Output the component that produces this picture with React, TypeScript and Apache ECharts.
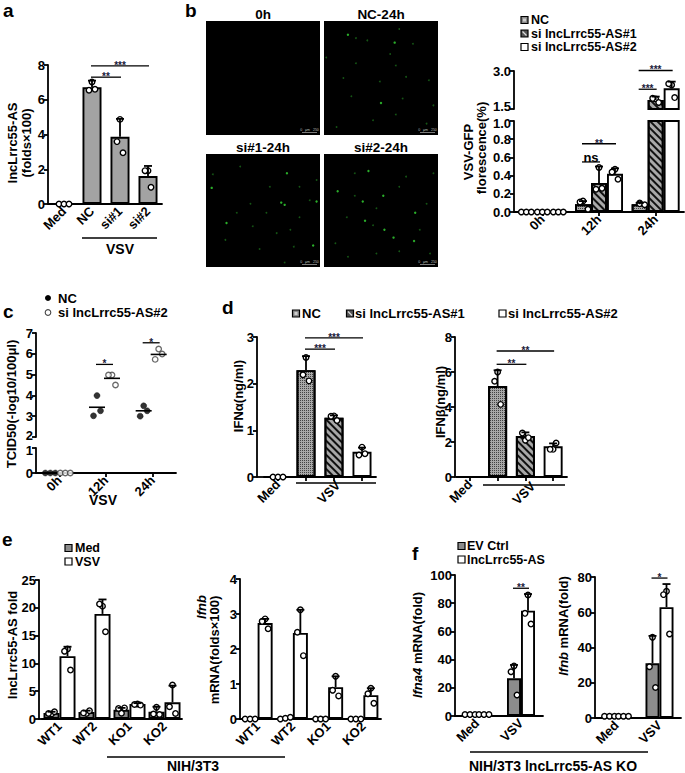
import React, { useEffect, useRef } from 'react';
import * as echarts from 'echarts';

const FONT = '"Liberation Sans", Arial, Helvetica, sans-serif';

// ---------------- panel a ----------------
const A_CATS = ['Med', 'NC', 'si#1', 'si#2'];
const A_MEAN = [0, 6.72, 3.87, 1.61];
const A_ERR = [0, 7.1, 4.9, 2.19];
const A_PTS = [[0, 0, 0], [7.02, 6.55, 6.6], [4.87, 3.59, 2.95], [1.92, 1.92, 0.96]];
const A_SIG = [
  { c1: 1, s1: 0, c2: 2, s2: 0, y: 7.3, label: '**' },
  { c1: 1, s1: 0, c2: 3, s2: 0, y: 7.95, label: '***' },
];

// ---------------- panel b (images) ----------------
const B_IMG_TITLES = ['0h', 'NC-24h', 'si#1-24h', 'si#2-24h'];
const B_DOTS_0H: number[][] = [];
const B_DOTS_NC24 = [[21, 12, 1], [62, 19, 1], [66, 7, 0], [28, 15, 0], [38, 17, 0], [2, 32, 0], [58, 29, 0], [63, 39, 0], [28, 37, 0], [49, 53, 0], [72, 49, 0], [92, 52, 0], [17, 50, 0], [50, 72, 1], [69, 68, 0], [63, 82, 0], [24, 66, 0], [96, 74, 0], [78, 20, 0], [90, 90, 0], [11, 93, 0], [43, 87, 0]];
const B_DOTS_SI1 = [[5, 30, 1], [18, 61, 1], [66, 43, 1], [69, 45, 1], [71, 17, 1], [97, 23, 0], [82, 56, 0], [74, 67, 0], [94, 81, 1], [77, 82, 0], [47, 84, 0], [17, 76, 0], [39, 44, 0], [56, 29, 0], [30, 11, 0], [91, 41, 0], [97, 42, 1], [41, 64, 0], [62, 70, 0], [69, 96, 0], [6, 18, 0], [27, 52, 0], [82, 29, 0], [53, 52, 0]];
const B_DOTS_SI2 = [[39, 15, 1], [12, 33, 1], [52, 37, 1], [36, 59, 1], [80, 52, 1], [61, 74, 1], [79, 77, 1], [10, 79, 0], [43, 63, 0], [27, 37, 0], [34, 42, 1], [46, 48, 0], [66, 29, 0], [90, 44, 0], [27, 17, 0], [66, 86, 0], [93, 88, 0], [53, 67, 1], [72, 20, 0], [20, 56, 0], [84, 67, 0], [46, 88, 0], [96, 17, 0], [21, 91, 0]];

// ---------------- panel b (chart) ----------------
const B_CATS = ['0h', '12h', '24h'];
const B_NAMES = ['NC', 'si lncLrrc55-AS#1', 'si lncLrrc55-AS#2'];
const B_BREAK_LABELS = ['1.5', '1.0'];
const B_NC_MEAN = [0, 0.085, 0.085];
const B_NC_ERR = [0, 0.12, 0.1];
const B_NC_PTS = [[0, 0, 0], [0.12, 0.11, 0.03], [0.1, 0.09, 0.08]];
const B_SI1_MEAN = [0, 0.32, 1.86];
const B_SI1_ERR = [0, 0.5, 1.99];
const B_SI1_PTS = [[0, 0, 0], [0.49, 0.25, 0.26], [1.9, 1.92, 1.76]];
const B_SI2_MEAN = [0, 0.42, 2.32];
const B_SI2_ERR = [0, 0.48, 2.58];
const B_SI2_PTS = [[0, 0, 0], [0.47, 0.44, 0.36], [2.45, 2.5, 1.95]];
const B_SIG = [
  { c1: 1, s1: 0, c2: 1, s2: 1, y: 0.55, label: 'ns' },
  { c1: 1, s1: 0, c2: 1, s2: 2, y: 0.75, label: '**' },
  { c1: 2, s1: 0, c2: 2, s2: 1, y: 2.28, label: '***' },
  { c1: 2, s1: 0, c2: 2, s2: 2, y: 3.02, label: '***' },
];

// ---------------- panel c ----------------
const C_CATS = ['0h', '12h', '24h'];
const C_NAMES = ['NC', 'si lncLrrc55-AS#2'];
const C_BREAK_LABELS = ['2', '1'];
const C_NC_PTS = [[0, 0, 0], [3.99, 3.02, 3.26], [3.5, 3.0, 3.26]];
const C_SI_PTS = [[0, 0, 0], [4.98, 4.98, 4.5], [6.23, 5.73, 5.99]];
const C_NC_MEAN = [0, 3.43, 3.26];
const C_SI_MEAN = [0, 4.82, 5.97];
const C_SIG = [
  { c1: 1, s1: 0, c2: 1, s2: 1, y: 5.49, label: '*' },
  { c1: 2, s1: 0, c2: 2, s2: 1, y: 6.53, label: '*' },
];

// ---------------- panel d ----------------
const D_NAMES = ['NC', 'si lncLrrc55-AS#1', 'si lncLrrc55-AS#2'];
const D_CATS = ['Med', '', '', ''];
const D1_MEAN = [0, 2.29, 1.27, 0.54];
const D1_ERR = [0, 2.59, 1.32, 0.63];
const D1_PTS = [[0, 0, 0], [2.56, 2.19, 2.06], [1.31, 1.3, 1.21], [0.64, 0.47, 0.5]];
const D1_SIG = [
  { c1: 1, s1: 0, c2: 2, s2: 0, y: 2.74, label: '***' },
  { c1: 1, s1: 0, c2: 3, s2: 0, y: 2.98, label: '***' },
];
const D2_MEAN = [0, 5.2, 2.34, 1.75];
const D2_ERR = [0, 6.1, 2.55, 1.92];
const D2_PTS = [[], [6.0, 5.47, 4.15], [2.1, 2.51, 2.25], [1.58, 1.58, 1.94]];
const D2_SIG = [
  { c1: 1, s1: 0, c2: 2, s2: 0, y: 6.44, label: '**' },
  { c1: 1, s1: 0, c2: 3, s2: 0, y: 7.2, label: '**' },
];

// ---------------- panel e ----------------
const E_CATS = ['WT1', 'WT2', 'KO1', 'KO2'];
const E_NAMES = ['Med', 'VSV'];
const E1_MED_MEAN = [1.1, 1.25, 1.65, 1.3];
const E1_MED_ERR = [1.3, 1.5, 2.0, 2.2];
const E1_MED_PTS = [[0.9, 1.0, 1.3], [1.0, 1.1, 1.5], [1.05, 1.9, 2.0], [2.1, 0.9, 0.8]];
const E1_VSV_MEAN = [11.3, 18.9, 2.7, 3.0];
const E1_VSV_ERR = [13.0, 21.5, 2.85, 6.0];
const E1_VSV_PTS = [[12.6, 12.2, 8.8], [20.3, 20.7, 15.7], [2.7, 2.6, 2.5], [6.1, 2.2, 1.0]];
const E2_MED_MEAN = [0.01, 0.02, 0.01, 0.01];
const E2_MED_ERR = [0.01, 0.02, 0.01, 0.01];
const E2_MED_PTS = [[0, 0, 0], [0, 0.02, 0.05], [0, 0, 0], [0, 0, 0]];
const E2_VSV_MEAN = [2.74, 2.46, 0.91, 0.68];
const E2_VSV_ERR = [2.86, 3.12, 1.22, 0.88];
const E2_VSV_PTS = [[2.86, 2.79, 2.58], [3.12, 2.48, 1.81], [1.22, 0.82, 0.66], [0.88, 0.72, 0.45]];

// ---------------- panel f ----------------
const F_CATS = ['Med', 'VSV'];
const F_NAMES = ['EV Ctrl', 'lncLrrc55-AS'];
const F1_EV_MEAN = [1, 26.7];
const F1_EV_ERR = [1, 36.2];
const F1_EV_PTS = [[1, 1, 1], [35.5, 31.4, 14.9]];
const F1_LNC_MEAN = [1, 74.7];
const F1_LNC_ERR = [1, 86.5];
const F1_LNC_PTS = [[1, 1, 1], [85.8, 72.8, 65.2]];
const F1_SIG = [{ c1: 1, s1: 0, c2: 1, s2: 1, y: 90.6, label: '**' }];
const F2_EV_MEAN = [1, 31];
const F2_EV_ERR = [1, 46.6];
const F2_EV_PTS = [[1, 1, 1], [45.8, 29.1, 17.3]];
const F2_LNC_MEAN = [1, 62.9];
const F2_LNC_ERR = [1, 76];
const F2_LNC_PTS = [[1, 1, 1], [71.9, 70, 47.7]];
const F2_SIG = [{ c1: 1, s1: 0, c2: 1, s2: 1, y: 79.4, label: '*' }];

// ---------------- styles ----------------
const STIPPLE = { symbol: 'rect', symbolSize: 1, color: 'rgba(0,0,0,0.6)', dashArrayX: [1, 1], dashArrayY: [1, 1], rotation: 0 };
const HATCH = { symbol: 'rect', symbolSize: 1, color: '#111', dashArrayX: [1, 0], dashArrayY: [1.6, 3], rotation: Math.PI / 4 };
const GREY = '#a3a3a3';
const DARK_GREY = '#8c8c8c';
const TICK_FS = 13;

function buildOption() {
  const grid: any[] = [];
  const xAxis: any[] = [];
  const yAxis: any[] = [];
  const series: any[] = [];
  const graphic: any[] = [];

  const axLine = { show: true, onZero: false, lineStyle: { color: '#000', width: 1.8 } };
  const tick = { show: true, length: 4, lineStyle: { color: '#000', width: 1.8 } };
  const lbl = { color: '#000', fontSize: TICK_FS, fontWeight: 'bold', fontFamily: FONT };

  const addGrid = (left: number, top: number, width: number, height: number, extra: any = {}) => {
    grid.push({ left, top, width, height, containLabel: false, outerBoundsMode: 'none', ...extra });
    return grid.length - 1;
  };

  const txt = (x: number, y: number, text: string, o: any = {}) => {
    const align = o.align || 'center';
    const va = o.va || 'middle';
    graphic.push({
      type: 'text', x, y, rotation: o.rot || 0, z: 20, silent: true,
      style: {
        text, fill: o.fill || '#000', fontSize: o.fs || 12, fontWeight: o.fw || 'bold',
        fontStyle: o.fst || 'normal', fontFamily: FONT,
        align, verticalAlign: va, textAlign: align, textVerticalAlign: va,
        rich: o.rich,
      },
    });
  };
  const line = (x1: number, y1: number, x2: number, y2: number, w = 1.8, c = '#000') => {
    graphic.push({ type: 'line', shape: { x1, y1, x2, y2 }, style: { stroke: c, lineWidth: w }, silent: true, z: 20 });
  };
  const box = (x: number, y: number, w: number, h: number, fill: string) => {
    graphic.push({ type: 'rect', shape: { x, y, width: w, height: h }, style: { fill, stroke: '#000', lineWidth: 1.2 }, silent: true, z: 20 });
  };
  const icon = (x: number, y: number, kind: string) => {
    if (kind === 'stipple') {
      box(x, y, 7, 7, '#8a8a8a');
      graphic.push({ type: 'rect', shape: { x: x + 2, y: y + 2, width: 3, height: 3 }, style: { fill: '#cfcfcf' }, silent: true, z: 21 });
    } else if (kind === 'hatch') {
      box(x, y, 7, 7, '#555');
      line(x + 1.5, y + 1.5, x + 5.5, y + 5.5, 1.3, '#ddd');
    } else if (kind === 'grey') {
      box(x, y, 7, 7, DARK_GREY);
    } else {
      box(x, y, 7, 7, '#fff');
    }
  };

  const errSeries = (xi: number, yi: number, data: number[][], off: number, cap: number) => ({
    type: 'custom', xAxisIndex: xi, yAxisIndex: yi, silent: true, z: 4, data,
    encode: { x: 0, y: [1, 2] },
    renderItem: (_p: any, api: any) => {
      const c = api.value(0), m = api.value(1), e = api.value(2);
      const a = api.coord([c, m]);
      const b = api.coord([c, e]);
      const x = a[0] + off;
      return {
        type: 'group', children: [
          { type: 'line', shape: { x1: x, y1: a[1], x2: x, y2: b[1] }, style: { stroke: '#000', lineWidth: 1.8 } },
          { type: 'line', shape: { x1: x - cap, y1: b[1], x2: x + cap, y2: b[1] }, style: { stroke: '#000', lineWidth: 1.8 } },
        ],
      };
    },
  });

  const sigSeries = (xi: number, yi: number, sigs: any[], offs: number[]) => ({
    type: 'custom', xAxisIndex: xi, yAxisIndex: yi, silent: true, z: 5,
    data: sigs.map((d) => [d.c1, d.y, d.c2]),
    encode: { x: [0, 2], y: 1 },
    renderItem: (params: any, api: any) => {
      const d = sigs[params.dataIndex];
      const a = api.coord([d.c1, d.y]);
      const b = api.coord([d.c2, d.y]);
      const x1 = a[0] + offs[d.s1];
      const x2 = b[0] + offs[d.s2];
      const ns = d.label === 'ns';
      return {
        type: 'group', children: [
          { type: 'line', shape: { x1: x1 - 1, y1: a[1], x2: x2 + 1, y2: a[1] }, style: { stroke: '#000', lineWidth: 1.3 } },
          {
            type: 'text', x: (x1 + x2) / 2, y: a[1] + (ns ? 2 : 4.5),
            style: {
              text: d.label, fill: ns ? '#000' : '#1a1a3a', fontSize: ns ? 13 : 10, fontWeight: 'bold', fontFamily: FONT,
              align: 'center', verticalAlign: 'bottom', textAlign: 'center', textVerticalAlign: 'bottom',
            },
          },
        ],
      };
    },
  });

  const jitter = (v: number, j: number, axisMax: number) =>
    v <= axisMax * 0.03 ? [-5, 0, 5][j] : [0, -3, 3][j];

  // On a broken axis, the labels at the two sides of the break are drawn a little apart (see below)
  const breakFmt = (multi: boolean, si: number, s: any, fmt?: (v: number) => string) => (v: number) => {
    if (multi && ((si === 0 && v === s.max) || (si > 0 && v === s.min))) return '';
    return fmt ? fmt(v) : String(v);
  };

  type Grp = { mean: number[]; err: number[]; pts: number[][]; color?: string; decal?: any; items?: any[] };
  const barPanel = (p: {
    left: number; width: number; yOffset?: number; segs: any[]; cats: string[]; groups: Grp[];
    bw: number; sig?: any[]; xTicks?: boolean; cap?: number;
  }) => {
    const n = p.groups.length;
    const offs = p.groups.map((_, k) => (k - (n - 1) / 2) * p.bw);
    const multi = p.segs.length > 1;
    const axisMax = p.segs[p.segs.length - 1].max;
    p.segs.forEach((s, si) => {
      const gi = addGrid(p.left, s.top, p.width, s.height);
      const xi = xAxis.length;
      xAxis.push({
        type: 'category', gridIndex: gi, data: p.cats, show: si === 0,
        axisLine: axLine, axisTick: { ...tick, show: !!p.xTicks, alignWithLabel: true },
        axisLabel: { ...lbl, rotate: 45, margin: 5, interval: 0 }, splitLine: { show: false },
      });
      const yi = yAxis.length;
      yAxis.push({
        type: 'value', gridIndex: gi, min: s.min, max: s.max, interval: s.interval, offset: p.yOffset || 0,
        axisLine: axLine, axisTick: tick, splitLine: { show: false },
        axisLabel: { ...lbl, margin: 3, formatter: breakFmt(multi, si, s, s.fmt) },
      });
      const lo = multi && si > 0 ? s.min : -Infinity;
      const hi = multi && si < p.segs.length - 1 ? s.max : Infinity;
      p.groups.forEach((g, k) => {
        const data = g.mean.map((v, ci) => {
          if (v < lo) return '-';
          return g.items ? { value: v, itemStyle: g.items[ci] } : v;
        });
        series.push({
          type: 'bar', xAxisIndex: xi, yAxisIndex: yi, data, barWidth: p.bw, barGap: '0%', clip: true, silent: true, z: 2,
          itemStyle: { color: g.color || '#fff', borderColor: '#000', borderWidth: 1.9, decal: g.decal },
        });
        const errData = g.mean.map((m, ci) => [ci, m, g.err[ci]]).filter((d) => d[2] > d[1] && d[1] >= lo && d[2] <= hi);
        series.push(errSeries(xi, yi, errData, offs[k], p.cap ?? 4));
        const dots: any[] = [];
        g.pts.forEach((arr, ci) => arr.forEach((v, j) => {
          if (v < lo || v > hi) return;
          dots.push({ value: [ci, v], symbolOffset: [offs[k] + jitter(v, j, axisMax), 0] });
        }));
        series.push({
          type: 'scatter', xAxisIndex: xi, yAxisIndex: yi, data: dots, symbol: 'circle', symbolSize: 5.5,
          clip: false, silent: true, z: 3, itemStyle: { color: '#fff', borderColor: '#000', borderWidth: 1.4, opacity: 1 },
        });
      });
      if (p.sig) {
        const sigs = p.sig.filter((d) => d.y >= lo && (hi === Infinity || d.y <= s.max));
        if (sigs.length) series.push(sigSeries(xi, yi, sigs, offs));
      }
    });
  };

  // ================= panel letters =================
  txt(3, 10, 'a', { fs: 19, align: 'left' });
  txt(185, 10, 'b', { fs: 19, align: 'left' });
  txt(3, 311.5, 'c', { fs: 19, align: 'left' });
  txt(222, 307.5, 'd', { fs: 19, align: 'left' });
  txt(2, 539.5, 'e', { fs: 19, align: 'left' });
  txt(412, 553, 'f', { fs: 19, align: 'left' });

  // ================= panel a =================
  barPanel({
    left: 50, width: 112, yOffset: 2,
    segs: [{ top: 65, height: 139, min: 0, max: 8, interval: 2 }],
    cats: A_CATS,
    groups: [{ mean: A_MEAN, err: A_ERR, pts: A_PTS, color: GREY }],
    bw: 19, sig: A_SIG,
  });
  line(48, 204, 50, 204);
  line(82, 238, 157, 238, 1.3);
  txt(120, 249, 'VSV', { fs: 14 });
  txt(12, 143, 'lncLrrc55-AS', { rot: Math.PI / 2, fs: 13 });
  txt(26, 143, '(folds×100)', { rot: Math.PI / 2, fs: 13 });

  // ================= panel b images =================
  const imgBoxes = [
    { l: 206, t: 21, w: 114, h: 114 },
    { l: 324, t: 21, w: 114, h: 114 },
    { l: 206, t: 154, w: 114, h: 113 },
    { l: 324, t: 154, w: 114, h: 113 },
  ];
  const imgDots = [B_DOTS_0H, B_DOTS_NC24, B_DOTS_SI1, B_DOTS_SI2];
  imgBoxes.forEach((b, i) => {
    const gi = addGrid(b.l, b.t, b.w, b.h, { show: true, backgroundColor: '#000', borderWidth: 0, borderColor: '#000' });
    const xi = xAxis.length;
    xAxis.push({ type: 'value', gridIndex: gi, min: 0, max: 100, show: false });
    const yi = yAxis.length;
    yAxis.push({ type: 'value', gridIndex: gi, min: 0, max: 100, inverse: true, show: false });
    series.push({
      type: 'scatter', xAxisIndex: xi, yAxisIndex: yi, silent: true, z: 3,
      data: imgDots[i].map((d) => ({
        value: [d[0], d[1]],
        symbolSize: d[2] ? 2.4 : 1.8,
        itemStyle: { color: d[2] ? '#34d834' : '#1a6a1a' },
      })),
      symbol: 'circle',
    });
    txt(b.l + b.w / 2, b.t - 7, B_IMG_TITLES[i], { fs: 13.5 });
    line(b.l + b.w - 18, b.t + b.h - 2.5, b.l + b.w - 3, b.t + b.h - 2.5, 0.6, '#cfcfcf');
    txt(b.l + b.w - 10.5, b.t + b.h - 5.5, '0   μm   250', { fs: 3.5, fw: 'normal', fill: '#bdbdbd' });
  });

  // ================= panel b chart =================
  barPanel({
    left: 514, width: 170,
    segs: [
      { top: 121, height: 91, min: 0, max: 1, interval: 0.2, fmt: (v: number) => v.toFixed(1) },
      { top: 71, height: 38, min: 1.5, max: 3, interval: 1.5, fmt: (v: number) => v.toFixed(1) },
    ],
    cats: B_CATS,
    groups: [
      { mean: B_NC_MEAN, err: B_NC_ERR, pts: B_NC_PTS, color: '#a8a8a8', decal: STIPPLE },
      { mean: B_SI1_MEAN, err: B_SI1_ERR, pts: B_SI1_PTS, color: '#a8a8a8', decal: HATCH },
      { mean: B_SI2_MEAN, err: B_SI2_ERR, pts: B_SI2_PTS, color: '#fff' },
    ],
    bw: 16, sig: B_SIG, xTicks: true,
  });
  txt(511, 106.5, B_BREAK_LABELS[0], { align: 'right', fs: TICK_FS });
  txt(511, 123, B_BREAK_LABELS[1], { align: 'right', fs: TICK_FS });
  icon(521, 16.5, 'stipple');
  icon(521, 30, 'hatch');
  icon(521, 43.5, 'white');
  txt(531, 20, B_NAMES[0], { align: 'left', fs: 12.5 });
  txt(531, 33.5, B_NAMES[1], { align: 'left', fs: 12.5 });
  txt(531, 47, B_NAMES[2], { align: 'left', fs: 12.5 });
  txt(468, 152, 'VSV-GFP', { rot: Math.PI / 2, fs: 13 });
  txt(481, 148, 'florescence(%)', { rot: Math.PI / 2, fs: 13 });

  // ================= panel c =================
  {
    const offs = [-9, 6];
    const segs = [
      { top: 448, height: 25, min: 0, max: 1, interval: 1 },
      { top: 333, height: 104, min: 2, max: 7, interval: 1 },
    ];
    segs.forEach((s, si) => {
      const gi = addGrid(36, s.top, 140, s.height);
      const xi = xAxis.length;
      xAxis.push({
        type: 'category', gridIndex: gi, data: C_CATS, show: si === 0,
        axisLine: axLine, axisTick: { ...tick, alignWithLabel: true },
        axisLabel: { ...lbl, rotate: 45, margin: 5, interval: 0 }, splitLine: { show: false },
      });
      const yi = yAxis.length;
      yAxis.push({
        type: 'value', gridIndex: gi, min: s.min, max: s.max, interval: s.interval,
        axisLine: axLine, axisTick: tick, splitLine: { show: false },
        axisLabel: { ...lbl, margin: 3, formatter: breakFmt(true, si, s) },
      });
      const inSeg = (v: number) => (si === 0 ? v <= s.max : v >= s.min);
      [C_NC_PTS, C_SI_PTS].forEach((pts, k) => {
        const dots: any[] = [];
        pts.forEach((arr, ci) => arr.forEach((v, j) => {
          if (!inSeg(v)) return;
          dots.push({ value: [ci, v], symbolOffset: [offs[k] + (v === 0 ? [-5, 0, 5][j] : [0, -3.5, 3.5][j]), 0] });
        }));
        series.push({
          type: 'scatter', xAxisIndex: xi, yAxisIndex: yi, data: dots, symbol: 'circle', symbolSize: k === 0 ? 6 : 5.5,
          clip: false, silent: true, z: 3,
          itemStyle: k === 0 ? { color: '#000', borderColor: '#000', borderWidth: 0.5 } : { color: '#fff', borderColor: '#444', borderWidth: 1.3 },
        });
      });
      [C_NC_MEAN, C_SI_MEAN].forEach((means, k) => {
        const data = means.map((m, ci) => [ci, m]).filter((d) => d[1] > 0 && inSeg(d[1]));
        const off = offs[k];
        series.push({
          type: 'custom', xAxisIndex: xi, yAxisIndex: yi, silent: true, z: 4, data, encode: { x: 0, y: 1 },
          renderItem: (_p: any, api: any) => {
            const a = api.coord([api.value(0), api.value(1)]);
            const x = a[0] + off;
            return { type: 'line', shape: { x1: x - 8, y1: a[1], x2: x + 8, y2: a[1] }, style: { stroke: '#000', lineWidth: 1.6 } };
          },
        });
      });
      if (si === 1) series.push(sigSeries(xi, yi, C_SIG, offs));
    });
    txt(33, 435, C_BREAK_LABELS[0], { align: 'right', fs: TICK_FS });
    txt(33, 450.5, C_BREAK_LABELS[1], { align: 'right', fs: TICK_FS });
    graphic.push({ type: 'circle', shape: { cx: 48, cy: 298, r: 3 }, style: { fill: '#000' }, silent: true, z: 20 });
    graphic.push({ type: 'circle', shape: { cx: 48, cy: 312.5, r: 2.8 }, style: { fill: '#fff', stroke: '#444', lineWidth: 1.1 }, silent: true, z: 20 });
    txt(58, 298, C_NAMES[0], { align: 'left', fs: 13 });
    txt(58, 312.5, C_NAMES[1], { align: 'left', fs: 13 });
    txt(103, 500, 'VSV', { fs: 14 });
    txt(11, 404, 'TCID50(-log10/100μl)', { rot: Math.PI / 2, fs: 13 });
  }

  // ================= panel d =================
  const dItems = [
    { color: '#a8a8a8', decal: STIPPLE },
    { color: '#a8a8a8', decal: STIPPLE },
    { color: '#a8a8a8', decal: HATCH },
    { color: '#fff' },
  ];
  barPanel({
    left: 264, width: 112, yOffset: 7,
    segs: [{ top: 337, height: 140, min: 0, max: 3, interval: 1 }],
    cats: D_CATS,
    groups: [{ mean: D1_MEAN, err: D1_ERR, pts: D1_PTS, items: dItems }],
    bw: 19, sig: D1_SIG, xTicks: true,
  });
  line(257, 477, 264, 477);
  line(296, 483, 376, 483, 1.3);
  txt(338, 483, 'VSV', { rot: Math.PI / 4, align: 'right', fs: 13 });
  txt(238, 396, 'IFNα(ng/ml)', { rot: Math.PI / 2, fs: 13 });

  barPanel({
    left: 456, width: 111, yOffset: 1,
    segs: [{ top: 337, height: 140, min: 0, max: 8, interval: 2 }],
    cats: D_CATS,
    groups: [{ mean: D2_MEAN, err: D2_ERR, pts: D2_PTS, items: dItems }],
    bw: 19, sig: D2_SIG, xTicks: true,
  });
  line(483, 485, 565, 485, 1.3);
  txt(533, 484, 'VSV', { rot: Math.PI / 4, align: 'right', fs: 13 });
  txt(440, 402, 'IFNβ(ng/ml)', { rot: Math.PI / 2, fs: 13 });

  icon(292.5, 310, 'stipple');
  txt(302, 313.5, D_NAMES[0], { align: 'left', fs: 13 });
  icon(346.5, 310, 'hatch');
  txt(355, 313.5, D_NAMES[1], { align: 'left', fs: 13 });
  icon(499, 310, 'white');
  txt(508, 313.5, D_NAMES[2], { align: 'left', fs: 13 });

  // ================= panel e =================
  barPanel({
    left: 42, width: 140, yOffset: 3,
    segs: [{ top: 580, height: 139, min: 0, max: 25, interval: 5 }],
    cats: E_CATS,
    groups: [
      { mean: E1_MED_MEAN, err: E1_MED_ERR, pts: E1_MED_PTS, color: DARK_GREY },
      { mean: E1_VSV_MEAN, err: E1_VSV_ERR, pts: E1_VSV_PTS, color: '#fff' },
    ],
    bw: 16,
  });
  line(39, 719, 42, 719);
  txt(12, 645, 'lncLrrc55-AS fold', { rot: Math.PI / 2, fs: 13 });

  barPanel({
    left: 240, width: 141,
    segs: [{ top: 579, height: 140, min: 0, max: 4, interval: 1 }],
    cats: E_CATS,
    groups: [
      { mean: E2_MED_MEAN, err: E2_MED_ERR, pts: E2_MED_PTS, color: DARK_GREY },
      { mean: E2_VSV_MEAN, err: E2_VSV_ERR, pts: E2_VSV_PTS, color: '#fff' },
    ],
    bw: 15,
  });
  txt(201, 607, 'Ifnb', { rot: Math.PI / 2, fs: 13, fst: 'italic' });
  txt(214, 650, 'mRNA(folds×100)', { rot: Math.PI / 2, fs: 13 });

  icon(65, 544.5, 'grey');
  txt(75, 548, E_NAMES[0], { align: 'left', fs: 12.5 });
  icon(65, 558, 'white');
  txt(75, 561.5, E_NAMES[1], { align: 'left', fs: 12.5 });
  line(107, 757, 285, 757, 1.3);
  txt(193, 765.5, 'NIH/3T3', { fs: 14 });

  // ================= panel f =================
  barPanel({
    left: 455, width: 88,
    segs: [{ top: 575, height: 141, min: 0, max: 100, interval: 20 }],
    cats: F_CATS,
    groups: [
      { mean: F1_EV_MEAN, err: F1_EV_ERR, pts: F1_EV_PTS, color: DARK_GREY },
      { mean: F1_LNC_MEAN, err: F1_LNC_ERR, pts: F1_LNC_PTS, color: '#fff' },
    ],
    bw: 14, sig: F1_SIG,
  });
  barPanel({
    left: 595, width: 86,
    segs: [{ top: 577, height: 141, min: 0, max: 80, interval: 20 }],
    cats: F_CATS,
    groups: [
      { mean: F2_EV_MEAN, err: F2_EV_ERR, pts: F2_EV_PTS, color: DARK_GREY },
      { mean: F2_LNC_MEAN, err: F2_LNC_ERR, pts: F2_LNC_PTS, color: '#fff' },
    ],
    bw: 14, sig: F2_SIG,
  });
  const richI = { i: { fontStyle: 'italic', fontWeight: 'bold', fontSize: 13, fontFamily: FONT } };
  txt(417, 645, '{i|Ifna4} mRNA(fold)', { rot: Math.PI / 2, fs: 13, rich: richI });
  txt(563, 626, '{i|Ifnb} mRNA(fold)', { rot: Math.PI / 2, fs: 13, rich: richI });
  icon(458, 542.5, 'grey');
  txt(467, 546, F_NAMES[0], { align: 'left', fs: 12.5 });
  icon(458, 556, 'white');
  txt(467, 559.5, F_NAMES[1], { align: 'left', fs: 12.5 });
  line(470, 752, 648, 752, 1.3);
  txt(553, 765.5, 'NIH/3T3 lncLrrc55-AS KO', { fs: 14 });

  return {
    animation: false,
    backgroundColor: '#fff',
    textStyle: { fontFamily: FONT },
    grid, xAxis, yAxis, series,
    graphic: { elements: graphic },
  };
}

export default function App() {
  const ref = useRef<HTMLDivElement>(null);
  useEffect(() => {
    if (!ref.current) return;
    const chart = echarts.init(ref.current, null, { renderer: 'svg' });
    chart.setOption(buildOption() as any);
    return () => chart.dispose();
  }, []);
  return (
    <div
      ref={ref}
      style={{ position: 'absolute', left: 0, top: 0, width: 685, height: 773, background: '#fff' }}
    />
  );
}
